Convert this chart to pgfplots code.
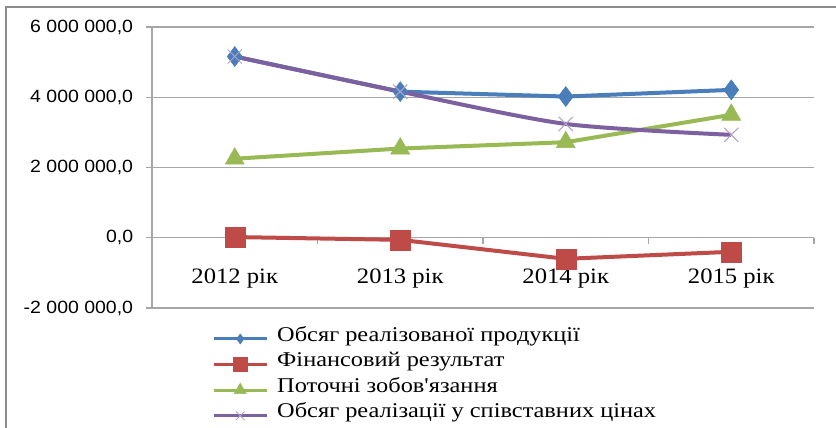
\documentclass[border=0pt]{standalone}
\usepackage{fontspec}
\setmainfont{Liberation Serif}
\newfontfamily\arialfont{Liberation Sans}
% same face without the TeX quote mapping, for a straight apostrophe
\newfontfamily\plainserif{Liberation Serif}[Ligatures=TeXOff]
\usepackage{pgfplots}
\pgfplotsset{compat=1.18}

\definecolor{sBlue}{HTML}{4A7EBB}
\definecolor{sRed}{HTML}{BE4B48}
\definecolor{sGreen}{HTML}{98B954}
\definecolor{sPurple}{HTML}{7D60A0}
\definecolor{sPurpleLt}{HTML}{B3A2C7}
\definecolor{gridgray}{HTML}{A6A6A6}
\definecolor{framegray}{HTML}{8C8C8C}

% legend sample: a short line with one mark of the given size in the middle
\pgfplotsset{
  legimg/.style={legend image code/.code={%
    \draw[mark repeat=2,mark phase=2,##1,line width=3pt,mark size=#1]
      plot coordinates {(0pt,0pt) (26.5pt,0pt) (53pt,0pt)};}},
}
\newcommand{\leg}[1]{\scalebox{1.16}[1]{#1}}

\begin{document}
\begin{tikzpicture}[x=1pt,y=1pt]
\useasboundingbox (0,0) rectangle (836,428);
% chart frame
\draw[framegray, line width=1.8pt] (6,-5) -- (6,421) -- (845,421);
\begin{axis}[
  at={(152pt,120pt)}, anchor=south west,
  scale only axis, width=662pt, height=281pt,
  xmin=0.5, xmax=4.5,
  ymin=-2000000, ymax=6000000,
  scaled y ticks=false,
  clip=false,
  axis x line=middle, axis y line=left,
  axis line style={-, gridgray, line width=1.5pt},
  ytick={-2000000,0,2000000,4000000,6000000},
  yticklabels={{-2 000 000,0},{0,0},{2 000 000,0},{4 000 000,0},{6 000 000,0}},
  yticklabel style={font=\arialfont\fontsize{17.7}{18}\selectfont, xscale=1.1, anchor=east, inner sep=0pt, xshift=-12pt},
  ymajorgrids, grid style={gridgray, line width=1.5pt},
  ytick style={gridgray, line width=1.5pt}, ytick align=outside,
  major tick length=5.5pt,
  xtick={1,2,3,4},
  xticklabels={2012 рік,2013 рік,2014 рік,2015 рік},
  xtick style={draw=none},
  xticklabel style={font=\fontsize{22}{22}\selectfont, xscale=1.12, anchor=north, inner sep=0pt, yshift=-28pt},
  legend cell align=left,
  legend style={at={(0.0907,-0.064)}, anchor=north west, draw=none, fill=none,
    font=\fontsize{21}{21}\selectfont, inner sep=0pt, row sep=0pt, column sep=9pt,
    nodes={inner sep=0pt, text height=15pt, text depth=10.6pt}},
]
% tick marks on the zero line between the years
\pgfplotsinvokeforeach{1.5,2.5,3.5,4.5}{
  \draw[gridgray, line width=1.5pt] (axis cs:#1,0) -- (axis cs:#1,-180000);
}
\addplot[sBlue, line width=4pt, mark=diamond*, mark size=10pt,
  mark options={fill=sBlue, draw=sBlue, line width=0.5pt}, legimg=5pt]
  coordinates {(1,5160000) (2,4160000) (3,4020000) (4,4210000)};
\addlegendentry{\leg{Обсяг реалізованої продукції}}
\addplot[sRed, line width=4pt, mark=square*, mark size=10pt,
  mark options={fill=sRed, draw=sRed, line width=0.5pt}, legimg=7pt]
  coordinates {(1,20000) (2,-60000) (3,-600000) (4,-400000)};
\addlegendentry{\leg{Фінансовий результат}}
\addplot[sGreen, line width=4pt, mark=triangle*, mark size=11pt,
  mark options={fill=sGreen, draw=sGreen, line width=0.5pt}, legimg=7pt]
  coordinates {(1,2250000) (2,2540000) (3,2720000) (4,3500000)};
\addlegendentry{\leg{Поточні зобов{\plainserif'}язання}}
\addplot[sPurple, line width=4pt, smooth, tension=0.45, mark=x, mark size=10pt,
  mark options={draw=sPurpleLt, line width=1pt}, legimg=6pt]
  coordinates {(1,5160000) (2,4160000) (3,3240000) (4,2930000)};
\addlegendentry{\leg{Обсяг реалізації у співставних цінах}}
\end{axis}
\end{tikzpicture}
\end{document}
